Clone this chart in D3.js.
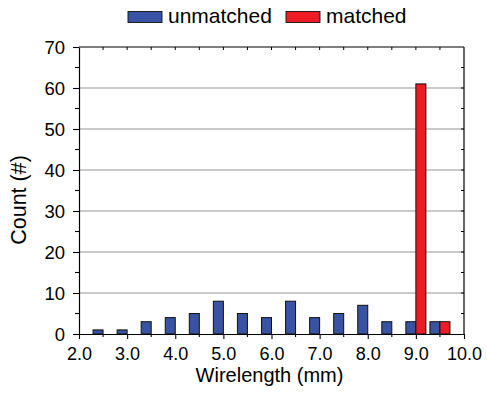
<!DOCTYPE html>
<html>
<head>
<meta charset="utf-8">
<script src="https://cdn.jsdelivr.net/npm/d3@7"></script>
<style>
  body { margin: 0; background: #fff; }
  svg text { font-family: "Liberation Sans", Arial, sans-serif; fill: #000; }
</style>
</head>
<body>
<div id="chart"></div>
<script>
// bin centres (mm) and counts per series
var wirelength = [2.5, 3.0, 3.5, 4.0, 4.5, 5.0, 5.5, 6.0, 6.5, 7.0, 7.5, 8.0, 8.5, 9.0, 9.5];
var unmatched  = [1, 1, 3, 4, 5, 8, 5, 4, 8, 4, 5, 7, 3, 3, 3];
var matched    = [0, 0, 0, 0, 0, 0, 0, 0, 0, 0, 0, 0, 0, 61, 3];
var xTicks = [2, 3, 4, 5, 6, 7, 8, 9, 10];
var yTicks = [0, 10, 20, 30, 40, 50, 60, 70];

var seriesNames = ["unmatched", "matched"];
var colours = ["#3953a4", "#ed1c24"];

var fullWidth = 487, fullHeight = 400;
var margins = {top: 47, right: 23, bottom: 66, left: 79};
var width = fullWidth - margins.left - margins.right;
var height = fullHeight - margins.top - margins.bottom;

var svg = d3.select("#chart").append("svg")
    .attr("width", fullWidth)
    .attr("height", fullHeight);

var g = svg.append("g")
    .attr("transform", "translate(" + margins.left + "," + margins.top + ")");

var xScale = d3.scaleLinear().domain([2, 10]).range([0, width]);
var yScale = d3.scaleLinear().domain([0, 70]).range([height, 0]);

// grid lines
g.append("g").selectAll("line")
    .data(yTicks.filter(function(d) { return d > 0 && d < 70; }))
    .enter().append("line")
    .attr("x1", 0).attr("x2", width)
    .attr("y1", function(d) { return yScale(d); })
    .attr("y2", function(d) { return yScale(d); })
    .attr("stroke", "#b8b8b8")
    .attr("stroke-width", 1.3);

// bars - blue left of the bin centre, red right of it
var barW = xScale(2.208) - xScale(2);
var series = [unmatched, matched];
series.forEach(function(values, s) {
    var points = values.map(function(v, i) { return {x: wirelength[i], y: v}; })
        .filter(function(p) { return p.y > 0; });
    g.append("g").selectAll("rect")
        .data(points)
        .enter().append("rect")
        .attr("x", function(d) { return xScale(d.x) + (s === 0 ? -barW : 0); })
        .attr("y", function(d) { return yScale(d.y); })
        .attr("width", barW)
        .attr("height", function(d) { return height - yScale(d.y); })
        .attr("fill", colours[s])
        .attr("stroke", "#111")
        .attr("stroke-width", 1);
});

// axes
var xAxis = d3.axisBottom(xScale).tickValues(xTicks)
    .tickFormat(d3.format(".1f")).tickSize(5).tickSizeOuter(0);
var yAxis = d3.axisLeft(yScale).tickValues(yTicks)
    .tickFormat(d3.format("d")).tickSize(6).tickSizeOuter(0);

var xAxisContainer = g.append("g")
    .attr("transform", "translate(0," + height + ")")
    .call(xAxis);
var yAxisContainer = g.append("g").call(yAxis);

[xAxisContainer, yAxisContainer].forEach(function(ax) {
    ax.select(".domain").attr("stroke", "#000").attr("stroke-width", 1.2);
    ax.selectAll(".tick line").attr("stroke", "#000").attr("stroke-width", 1.1);
    ax.selectAll(".tick text").attr("font-size", "18.5px")
        .style("font-family", "Liberation Sans, Arial, sans-serif");
});
xAxisContainer.selectAll(".tick text").attr("font-size", "18px").attr("y", 13).attr("dy", "0.71em");
yAxisContainer.selectAll(".tick text").attr("x", -14).attr("dy", "0.36em");

// minor ticks on the bottom and left
var xMinor = d3.range(2.5, 10, 1);
var yMinor = d3.range(5, 70, 10);
g.append("g").selectAll("line").data(xMinor).enter().append("line")
    .attr("x1", function(d) { return xScale(d); }).attr("x2", function(d) { return xScale(d); })
    .attr("y1", height).attr("y2", height + 3)
    .attr("stroke", "#000").attr("stroke-width", 1.1);
g.append("g").selectAll("line").data(yMinor).enter().append("line")
    .attr("x1", -4).attr("x2", 0)
    .attr("y1", function(d) { return yScale(d); }).attr("y2", function(d) { return yScale(d); })
    .attr("stroke", "#000").attr("stroke-width", 1.1);

// top and right frame with inward ticks
g.append("line").attr("x1", 0).attr("x2", width).attr("y1", 0).attr("y2", 0)
    .attr("stroke", "#000").attr("stroke-width", 1.2);
g.append("line").attr("x1", width).attr("x2", width).attr("y1", 0).attr("y2", height)
    .attr("stroke", "#000").attr("stroke-width", 1.2);
g.append("g").selectAll("line").data(d3.range(2.5, 10, 0.5)).enter().append("line")
    .attr("x1", function(d) { return xScale(d); }).attr("x2", function(d) { return xScale(d); })
    .attr("y1", 0).attr("y2", 3)
    .attr("stroke", "#000").attr("stroke-width", 1);
g.append("g").selectAll("line").data(d3.range(5, 70, 5)).enter().append("line")
    .attr("x1", width - 3).attr("x2", width)
    .attr("y1", function(d) { return yScale(d); }).attr("y2", function(d) { return yScale(d); })
    .attr("stroke", "#000").attr("stroke-width", 1);

// axis titles
svg.append("text")
    .attr("x", margins.left + width / 2 - 2)
    .attr("y", 382)
    .attr("text-anchor", "middle")
    .attr("font-size", "20px")
    .text("Wirelength (mm)");

svg.append("text")
    .attr("transform", "translate(26,200) rotate(-90)")
    .attr("text-anchor", "middle")
    .attr("font-size", "21.5px")
    .text("Count (#)");

// legend
var legendX = [128, 286];
var legend = svg.append("g");
seriesNames.forEach(function(name, s) {
    legend.append("rect")
        .attr("x", legendX[s]).attr("y", 11.5)
        .attr("width", 34).attr("height", 11)
        .attr("fill", colours[s])
        .attr("stroke", "#111").attr("stroke-width", 0.9);
    legend.append("text")
        .attr("x", legendX[s] + 40).attr("y", 23)
        .attr("font-size", "21px")
        .text(name);
});
</script>
</body>
</html>
